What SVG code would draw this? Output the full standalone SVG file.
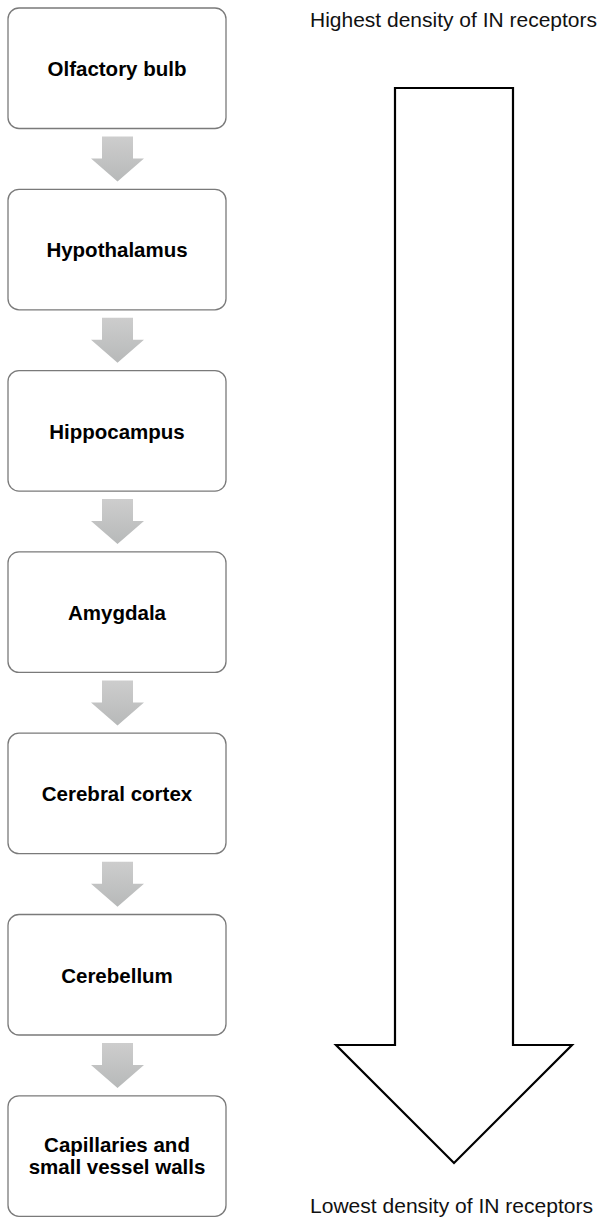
<svg xmlns="http://www.w3.org/2000/svg" width="600" height="1218" viewBox="0 0 600 1218">
<style>
.box{fill:#ffffff;stroke:#7a7a7a;stroke-width:1.3}
.lbl{font-family:"Liberation Sans",Arial,sans-serif;font-weight:bold;font-size:20.5px;fill:#000;text-anchor:middle}
.note{font-family:"Liberation Sans",Arial,sans-serif;font-size:20.5px;fill:#111}
.dn{fill:url(#g)}
</style>
<defs>
<linearGradient id="g" x1="0" y1="0" x2="0" y2="1">
<stop offset="0" stop-color="#cdcdcd"/>
<stop offset="1" stop-color="#b7b9b9"/>
</linearGradient>
<path id="dnArrow" d="M102,0 H133 V22 H144 L117.5,45 L91,22 H102 Z"/>
</defs>
<rect width="600" height="1218" fill="#ffffff"/>
<g id="connectors">
<use href="#dnArrow" class="dn" y="136.5"/>
<use href="#dnArrow" class="dn" y="317.8"/>
<use href="#dnArrow" class="dn" y="499.1"/>
<use href="#dnArrow" class="dn" y="680.4"/>
<use href="#dnArrow" class="dn" y="861.7"/>
<use href="#dnArrow" class="dn" y="1043"/>
</g>
<g id="n1"><rect class="box" x="8" y="8" width="218" height="120.5" rx="11"/><text class="lbl" x="117" y="76">Olfactory bulb</text></g>
<g id="n2"><rect class="box" x="8" y="189.3" width="218" height="120.5" rx="11"/><text class="lbl" x="117" y="257.3">Hypothalamus</text></g>
<g id="n3"><rect class="box" x="8" y="370.6" width="218" height="120.5" rx="11"/><text class="lbl" x="117" y="438.6">Hippocampus</text></g>
<g id="n4"><rect class="box" x="8" y="551.9" width="218" height="120.5" rx="11"/><text class="lbl" x="117" y="619.9">Amygdala</text></g>
<g id="n5"><rect class="box" x="8" y="733.2" width="218" height="120.5" rx="11"/><text class="lbl" x="117" y="801.2">Cerebral cortex</text></g>
<g id="n6"><rect class="box" x="8" y="914.5" width="218" height="120.5" rx="11"/><text class="lbl" x="117" y="982.5">Cerebellum</text></g>
<g id="n7"><rect class="box" x="8" y="1095.8" width="218" height="120.5" rx="11"/><text class="lbl" x="117" y="1152">Capillaries and</text><text class="lbl" x="117" y="1173.5">small vessel walls</text></g>
<g id="density">
<polygon points="395,88 513,88 513,1045 572,1045 454,1163 336,1045 395,1045" fill="#ffffff" stroke="#000" stroke-width="2.2" stroke-linejoin="miter"/>
<text class="note" x="310" y="27" textLength="287" lengthAdjust="spacingAndGlyphs">Highest density of IN receptors</text>
<text class="note" x="310" y="1213" textLength="283" lengthAdjust="spacingAndGlyphs">Lowest density of IN receptors</text>
</g>
</svg>
